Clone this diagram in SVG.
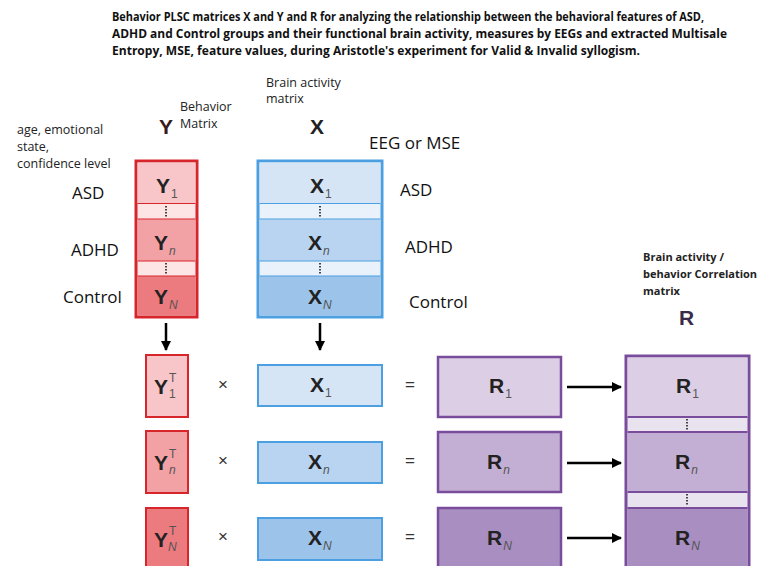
<svg xmlns="http://www.w3.org/2000/svg" width="769" height="566" viewBox="0 0 769 566">
<style>
  text { font-family: "Liberation Sans", Arial, sans-serif; fill: #1a1a1a; }
  .title { font-family: "Open Sans", "Liberation Sans", sans-serif; font-weight: bold; font-size: 12px; fill: #111; }
  .note { font-family: "Open Sans", "Liberation Sans", sans-serif; font-size: 12.5px; fill: #222; }
  .grp { font-family: "Open Sans", "Liberation Sans", sans-serif; font-size: 17px; fill: #111; }
  .sym { font-weight: bold; font-size: 21px; fill: #222; }
  .sub { font-size: 12px; font-weight: normal; fill: #555; }
  .subi { font-size: 12px; font-weight: normal; fill: #555; font-style: italic; }
  .op { font-size: 17px; fill: #333; }
  .ybox { stroke: #d6262c; stroke-width: 2; }
  .xbox { stroke: #4c9fe0; stroke-width: 2; }
  .rbox { stroke: #7a4c9c; stroke-width: 2.5; }
  .dots { stroke: #444; stroke-width: 2; stroke-dasharray: 1.5 1.5; }
  .conn { stroke: #000; stroke-width: 2.5; fill: none; }
</style>
<defs>
  <marker id="ah" viewBox="0 0 10 10" refX="9" refY="5" markerWidth="4" markerHeight="4" orient="auto">
    <path d="M0,0 L10,5 L0,10 z" fill="#000"/>
  </marker>
</defs>

<!-- heading -->
<g id="heading">
  <text class="title" x="112" y="21" textLength="592" lengthAdjust="spacingAndGlyphs">Behavior PLSC matrices X and Y and R for analyzing the relationship between the behavioral features of ASD,</text>
  <text class="title" x="112" y="38" textLength="615" lengthAdjust="spacingAndGlyphs">ADHD and Control groups and their functional brain activity, measures by EEGs and extracted Multisale</text>
  <text class="title" x="112" y="55" textLength="528" lengthAdjust="spacingAndGlyphs">Entropy, MSE, feature values, during Aristotle's experiment for Valid &amp; Invalid syllogism.</text>
</g>

<!-- behaviour matrix Y -->
<g id="Y-matrix">
  <text class="note" x="17" y="134">age, emotional</text>
  <text class="note" x="17" y="151">state,</text>
  <text class="note" x="17" y="168">confidence level</text>
  <text class="sym" x="159" y="134" style="fill:#3a1a1a">Y</text>
  <text class="note" x="180" y="111">Behavior</text>
  <text class="note" x="180" y="128">Matrix</text>
  <rect x="136" y="161" width="61" height="156" fill="#fde4e5" stroke="#d6262c" stroke-width="3"/>
  <rect x="137.5" y="162.5" width="58" height="41" fill="#f8c6c8"/>
  <rect x="137.5" y="219" width="58" height="42" fill="#f2a2a5"/>
  <rect x="137.5" y="276" width="58" height="39.5" fill="#ec7b7f"/>
  <line x1="137.5" y1="203.5" x2="195.5" y2="203.5" stroke="#d6262c" stroke-width="1"/>
  <line x1="137.5" y1="219" x2="195.5" y2="219" stroke="#d6262c" stroke-width="1"/>
  <line x1="137.5" y1="261" x2="195.5" y2="261" stroke="#d6262c" stroke-width="1"/>
  <line x1="137.5" y1="276" x2="195.5" y2="276" stroke="#d6262c" stroke-width="1"/>
  <line class="dots" x1="166" y1="206" x2="166" y2="217"/>
  <line class="dots" x1="166" y1="263" x2="166" y2="274"/>
  <text class="sym" x="156" y="193">Y<tspan class="sub" dx="1" dy="5">1</tspan></text>
  <text class="sym" x="154" y="250">Y<tspan class="subi" dx="1" dy="5">n</tspan></text>
  <text class="sym" x="154" y="304">Y<tspan class="subi" dx="1" dy="5">N</tspan></text>
  <text class="grp" x="72" y="199">ASD</text>
  <text class="grp" x="71" y="256">ADHD</text>
  <text class="grp" x="63" y="303">Control</text>
</g>

<!-- brain activity matrix X -->
<g id="X-matrix">
  <text class="note" x="266" y="87">Brain activity</text>
  <text class="note" x="266" y="103">matrix</text>
  <text class="sym" x="310" y="134">X</text>
  <text class="grp" x="369" y="149">EEG or MSE</text>
  <rect x="258" y="161" width="124" height="156" fill="#e9f2fb" stroke="#4c9fe0" stroke-width="3"/>
  <rect x="259.5" y="162.5" width="121" height="41" fill="#d5e5f5"/>
  <rect x="259.5" y="219" width="121" height="42" fill="#b8d4f0"/>
  <rect x="259.5" y="276" width="121" height="39.5" fill="#9cc4ea"/>
  <line x1="259.5" y1="203.5" x2="380.5" y2="203.5" stroke="#4c9fe0" stroke-width="1"/>
  <line x1="259.5" y1="219" x2="380.5" y2="219" stroke="#4c9fe0" stroke-width="1"/>
  <line x1="259.5" y1="261" x2="380.5" y2="261" stroke="#4c9fe0" stroke-width="1"/>
  <line x1="259.5" y1="276" x2="380.5" y2="276" stroke="#4c9fe0" stroke-width="1"/>
  <line class="dots" x1="320" y1="206" x2="320" y2="217"/>
  <line class="dots" x1="320" y1="263" x2="320" y2="274"/>
  <text class="sym" x="310" y="193">X<tspan class="sub" dx="1" dy="5">1</tspan></text>
  <text class="sym" x="308" y="250">X<tspan class="subi" dx="1" dy="5">n</tspan></text>
  <text class="sym" x="308" y="304">X<tspan class="subi" dx="1" dy="5">N</tspan></text>
  <text class="grp" x="400" y="196">ASD</text>
  <text class="grp" x="405" y="253">ADHD</text>
  <text class="grp" x="409" y="308">Control</text>
</g>

<!-- transposed Y blocks -->
<g id="Yt-1">
  <rect class="ybox" x="146" y="355" width="42" height="62" fill="#f8c6c8"/>
  <text class="sym" x="154" y="394">Y</text>
  <text class="sub" x="169" y="382">T</text>
  <text class="sub" x="169" y="398">1</text>
</g>
<g id="Yt-n">
  <rect class="ybox" x="146" y="431" width="42" height="62" fill="#f2a2a5"/>
  <text class="sym" x="154" y="470">Y</text>
  <text class="sub" x="169" y="458">T</text>
  <text class="subi" x="169" y="474">n</text>
</g>
<g id="Yt-N">
  <rect class="ybox" x="146" y="508" width="42" height="62" fill="#ec7b7f"/>
  <text class="sym" x="154" y="547">Y</text>
  <text class="sub" x="169" y="535">T</text>
  <text class="subi" x="168" y="551">N</text>
</g>

<!-- X blocks -->
<g id="X-1">
  <rect class="xbox" x="258" y="365" width="124" height="41" fill="#d5e5f5"/>
  <text class="sym" x="310" y="392">X<tspan class="sub" dx="1" dy="5">1</tspan></text>
</g>
<g id="X-n">
  <rect class="xbox" x="258" y="442" width="124" height="41" fill="#b8d4f0"/>
  <text class="sym" x="308" y="469">X<tspan class="subi" dx="1" dy="5">n</tspan></text>
</g>
<g id="X-N">
  <rect class="xbox" x="258" y="518" width="124" height="42" fill="#9cc4ea"/>
  <text class="sym" x="308" y="545">X<tspan class="subi" dx="1" dy="5">N</tspan></text>
</g>

<!-- operators -->
<g id="operators">
  <text class="op" x="223" y="390" text-anchor="middle">×</text>
  <text class="op" x="223" y="466" text-anchor="middle">×</text>
  <text class="op" x="223" y="542" text-anchor="middle">×</text>
  <text class="op" x="410" y="390" text-anchor="middle">=</text>
  <text class="op" x="410" y="466" text-anchor="middle">=</text>
  <text class="op" x="410" y="542" text-anchor="middle">=</text>
</g>

<!-- R blocks -->
<g id="R-1">
  <rect class="rbox" x="438" y="357" width="123" height="60" fill="#dccee4"/>
  <text class="sym" x="489" y="393">R<tspan class="sub" dx="1" dy="5">1</tspan></text>
</g>
<g id="R-n">
  <rect class="rbox" x="438" y="432" width="123" height="60" fill="#c4afd4"/>
  <text class="sym" x="487" y="469">R<tspan class="subi" dx="1" dy="5">n</tspan></text>
</g>
<g id="R-N">
  <rect class="rbox" x="438" y="508" width="123" height="64" fill="#a98ec1"/>
  <text class="sym" x="487" y="545">R<tspan class="subi" dx="1" dy="5">N</tspan></text>
</g>

<!-- correlation matrix R -->
<g id="R-matrix">
  <text class="note" x="643" y="261" style="font-weight:bold;font-size:11px">Brain activity /</text>
  <text class="note" x="643" y="278" style="font-weight:bold;font-size:11px">behavior Correlation</text>
  <text class="note" x="643" y="295" style="font-weight:bold;font-size:11px">matrix</text>
  <text class="sym" x="679" y="325" style="fill:#3a2a4a">R</text>
  <rect x="626" y="356" width="123" height="216" fill="#e9e3f0" stroke="#7a4c9c" stroke-width="3"/>
  <rect x="627.5" y="357.5" width="120" height="59.5" fill="#dccee4"/>
  <rect x="627.5" y="432" width="120" height="60" fill="#c4afd4"/>
  <rect x="627.5" y="508" width="120" height="62" fill="#a98ec1"/>
  <line x1="627.5" y1="417" x2="747.5" y2="417" stroke="#7a4c9c" stroke-width="2"/>
  <line x1="627.5" y1="432" x2="747.5" y2="432" stroke="#7a4c9c" stroke-width="2"/>
  <line x1="627.5" y1="492" x2="747.5" y2="492" stroke="#7a4c9c" stroke-width="2"/>
  <line x1="627.5" y1="508" x2="747.5" y2="508" stroke="#7a4c9c" stroke-width="2"/>
  <line class="dots" x1="687" y1="419" x2="687" y2="430"/>
  <line class="dots" x1="687" y1="494" x2="687" y2="506"/>
  <text class="sym" x="676" y="393">R<tspan class="sub" dx="1" dy="5">1</tspan></text>
  <text class="sym" x="675" y="469">R<tspan class="subi" dx="1" dy="5">n</tspan></text>
  <text class="sym" x="675" y="545">R<tspan class="subi" dx="1" dy="5">N</tspan></text>
</g>

<!-- connectors -->
<g id="connectors">
  <line class="conn" x1="166" y1="323" x2="166" y2="350" marker-end="url(#ah)"/>
  <line class="conn" x1="320" y1="323" x2="320" y2="350" marker-end="url(#ah)"/>
  <line class="conn" x1="567" y1="387" x2="621" y2="387" marker-end="url(#ah)"/>
  <line class="conn" x1="567" y1="463" x2="621" y2="463" marker-end="url(#ah)"/>
  <line class="conn" x1="567" y1="538" x2="621" y2="538" marker-end="url(#ah)"/>
</g>
</svg>
